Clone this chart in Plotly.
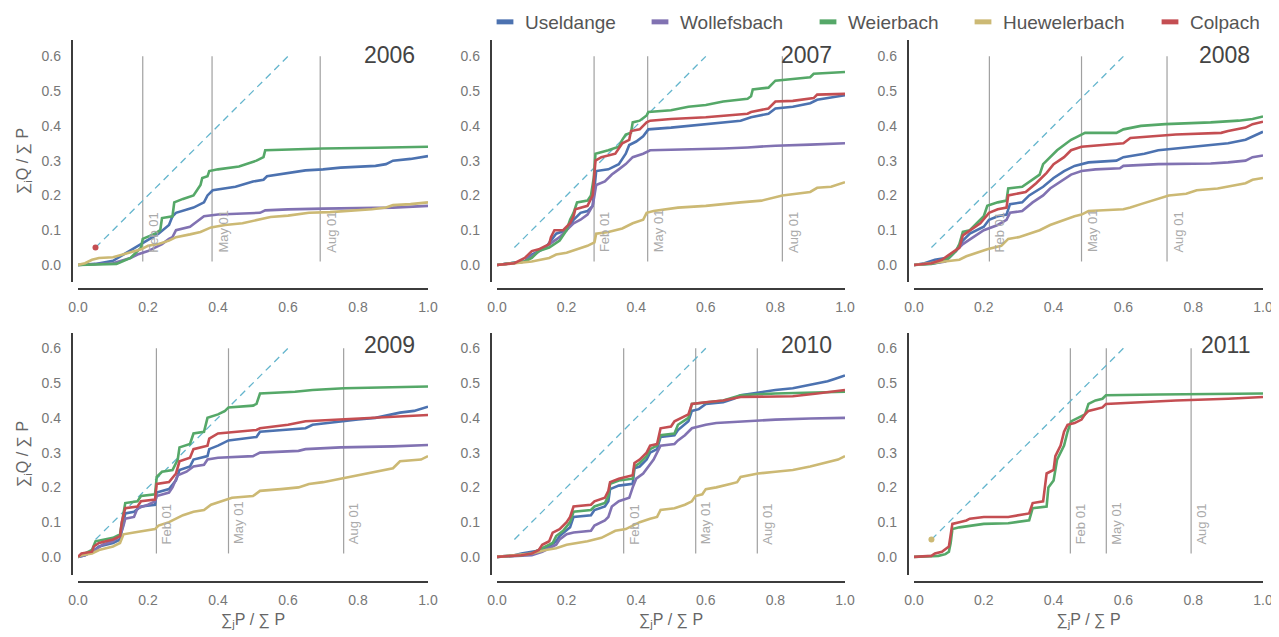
import plotly.graph_objects as go

# ---------------- data ----------------
YEARS = [2006, 2007, 2008, 2009, 2010, 2011]
STATIONS = ["Useldange", "Wollefsbach", "Weierbach", "Huewelerbach", "Colpach"]
COLORS = ["#4C72B0", "#8172B2", "#55A868", "#CCB974", "#C44E52"]
DIAG_COLOR = "#64B5CD"

# date markers (fraction of cumulative precipitation)
FEB = [0.185, 0.279, 0.216, 0.224, 0.364, 0.448]
MAY = [0.383, 0.433, 0.480, 0.430, 0.571, 0.551]
AUG = [0.692, 0.820, 0.725, 0.759, 0.748, 0.794]
DATE_LABELS = ["Feb 01", "May 01", "Aug 01"]

# 1:1 reference line and start marker
DIAG_X = [0.05, 0.6]
DIAG_Y = [0.05, 0.6]
DOT_X = [0.05]
DOT_Y = [0.05]
DOT_STATION = {2006: "Colpach", 2011: "Huewelerbach"}

# cumulative curves: (sum_j P / sum P, sum_i Q / sum P)
USE_2006 = [(0, 0), (0.05, 0.003), (0.10, 0.012), (0.13, 0.03), (0.16, 0.05), (0.18, 0.06), (0.21, 0.08), (0.23, 0.09),
            (0.26, 0.115), (0.27, 0.14), (0.28, 0.15), (0.33, 0.165), (0.36, 0.18), (0.37, 0.20), (0.385, 0.215),
            (0.45, 0.225), (0.50, 0.24), (0.53, 0.245), (0.54, 0.255), (0.60, 0.265), (0.65, 0.272), (0.70, 0.275),
            (0.75, 0.28), (0.85, 0.285), (0.88, 0.29), (0.90, 0.30), (0.95, 0.305), (1.0, 0.313)]
WOL_2006 = [(0, 0), (0.10, 0.005), (0.15, 0.02), (0.17, 0.03), (0.20, 0.04), (0.22, 0.05), (0.24, 0.06), (0.26, 0.075),
            (0.27, 0.08), (0.28, 0.10), (0.32, 0.11), (0.34, 0.125), (0.36, 0.14), (0.40, 0.145), (0.48, 0.147),
            (0.52, 0.15), (0.535, 0.157), (0.60, 0.16), (0.70, 0.162), (0.80, 0.163), (0.90, 0.165), (1.0, 0.17)]
WEI_2006 = [(0, 0), (0.11, 0.003), (0.15, 0.02), (0.18, 0.05), (0.185, 0.075), (0.22, 0.09), (0.235, 0.10),
            (0.24, 0.135), (0.27, 0.14), (0.275, 0.18), (0.30, 0.19), (0.33, 0.20), (0.35, 0.23), (0.355, 0.25),
            (0.37, 0.255), (0.375, 0.27), (0.40, 0.275), (0.46, 0.283), (0.51, 0.30), (0.53, 0.31), (0.535, 0.33),
            (0.60, 0.332), (0.70, 0.335), (0.85, 0.337), (1.0, 0.34)]
HUE_2006 = [(0, 0), (0.02, 0.005), (0.04, 0.015), (0.06, 0.02), (0.10, 0.022), (0.13, 0.03), (0.16, 0.04),
            (0.18, 0.045), (0.20, 0.055), (0.23, 0.06), (0.26, 0.07), (0.28, 0.08), (0.32, 0.088), (0.35, 0.095),
            (0.38, 0.108), (0.42, 0.115), (0.47, 0.12), (0.52, 0.13), (0.55, 0.138), (0.60, 0.142), (0.63, 0.145),
            (0.66, 0.15), (0.72, 0.152), (0.78, 0.155), (0.84, 0.16), (0.88, 0.165), (0.90, 0.172), (0.95, 0.175),
            (1.0, 0.18)]

USE_2007 = [(0, 0), (0.05, 0.005), (0.08, 0.01), (0.10, 0.03), (0.14, 0.05), (0.17, 0.09), (0.20, 0.10), (0.22, 0.13),
            (0.24, 0.15), (0.26, 0.155), (0.275, 0.17), (0.285, 0.27), (0.32, 0.275), (0.35, 0.29), (0.37, 0.32),
            (0.38, 0.345), (0.40, 0.355), (0.42, 0.37), (0.435, 0.39), (0.50, 0.395), (0.60, 0.405), (0.70, 0.415),
            (0.73, 0.425), (0.78, 0.435), (0.80, 0.45), (0.85, 0.455), (0.90, 0.465), (0.92, 0.475), (1.0, 0.488)]
WOL_2007 = [(0, 0), (0.05, 0.005), (0.08, 0.01), (0.10, 0.025), (0.13, 0.045), (0.15, 0.06), (0.18, 0.08),
            (0.20, 0.10), (0.22, 0.12), (0.24, 0.13), (0.26, 0.145), (0.275, 0.17), (0.285, 0.23), (0.31, 0.24),
            (0.33, 0.26), (0.35, 0.275), (0.37, 0.29), (0.39, 0.31), (0.42, 0.32), (0.44, 0.33), (0.55, 0.332),
            (0.65, 0.335), (0.72, 0.338), (0.80, 0.343), (0.90, 0.346), (1.0, 0.35)]
WEI_2007 = [(0, 0), (0.05, 0.005), (0.08, 0.01), (0.10, 0.02), (0.12, 0.04), (0.15, 0.05), (0.18, 0.07),
            (0.20, 0.10), (0.21, 0.13), (0.22, 0.15), (0.23, 0.18), (0.26, 0.185), (0.27, 0.20), (0.278, 0.25),
            (0.283, 0.32), (0.32, 0.33), (0.35, 0.34), (0.36, 0.36), (0.37, 0.375), (0.385, 0.38), (0.39, 0.41),
            (0.41, 0.415), (0.43, 0.43), (0.435, 0.44), (0.50, 0.445), (0.55, 0.455), (0.60, 0.46), (0.65, 0.47),
            (0.72, 0.478), (0.73, 0.485), (0.735, 0.505), (0.78, 0.51), (0.80, 0.53), (0.85, 0.535), (0.90, 0.54),
            (0.91, 0.55), (0.95, 0.553), (1.0, 0.555)]
HUE_2007 = [(0, 0), (0.05, 0.005), (0.10, 0.01), (0.15, 0.02), (0.17, 0.03), (0.20, 0.035), (0.23, 0.045),
            (0.26, 0.055), (0.28, 0.065), (0.285, 0.09), (0.32, 0.095), (0.36, 0.105), (0.39, 0.12), (0.42, 0.13),
            (0.43, 0.15), (0.45, 0.155), (0.52, 0.165), (0.60, 0.17), (0.70, 0.18), (0.76, 0.185), (0.82, 0.20),
            (0.86, 0.205), (0.90, 0.21), (0.92, 0.222), (0.96, 0.225), (1.0, 0.238)]
COL_2007 = [(0, 0), (0.05, 0.005), (0.08, 0.02), (0.10, 0.04), (0.12, 0.045), (0.15, 0.06), (0.155, 0.08),
            (0.165, 0.10), (0.19, 0.10), (0.21, 0.12), (0.22, 0.14), (0.225, 0.16), (0.26, 0.17), (0.275, 0.20),
            (0.283, 0.30), (0.30, 0.31), (0.34, 0.32), (0.36, 0.35), (0.38, 0.36), (0.385, 0.385), (0.41, 0.39),
            (0.43, 0.41), (0.44, 0.415), (0.50, 0.42), (0.60, 0.425), (0.65, 0.43), (0.72, 0.435), (0.73, 0.44),
            (0.78, 0.45), (0.80, 0.47), (0.85, 0.472), (0.91, 0.48), (0.92, 0.49), (1.0, 0.492)]

USE_2008 = [(0, 0), (0.03, 0.005), (0.06, 0.015), (0.09, 0.02), (0.12, 0.04), (0.14, 0.07), (0.16, 0.09),
            (0.20, 0.11), (0.215, 0.13), (0.24, 0.14), (0.265, 0.145), (0.275, 0.175), (0.31, 0.18), (0.33, 0.20),
            (0.37, 0.225), (0.40, 0.25), (0.43, 0.27), (0.46, 0.285), (0.50, 0.295), (0.58, 0.30), (0.60, 0.31),
            (0.66, 0.32), (0.70, 0.33), (0.75, 0.335), (0.85, 0.345), (0.90, 0.35), (0.95, 0.36), (0.97, 0.37),
            (1.0, 0.383)]
WOL_2008 = [(0, 0), (0.06, 0.005), (0.09, 0.01), (0.10, 0.02), (0.12, 0.04), (0.14, 0.06), (0.17, 0.08),
            (0.20, 0.10), (0.24, 0.115), (0.265, 0.13), (0.275, 0.15), (0.31, 0.155), (0.34, 0.18), (0.37, 0.20),
            (0.39, 0.22), (0.42, 0.24), (0.45, 0.26), (0.48, 0.27), (0.52, 0.275), (0.59, 0.278), (0.60, 0.285),
            (0.70, 0.29), (0.85, 0.292), (0.90, 0.295), (0.95, 0.30), (0.97, 0.31), (1.0, 0.315)]
WEI_2008 = [(0, 0), (0.05, 0.003), (0.08, 0.01), (0.10, 0.02), (0.12, 0.04), (0.13, 0.06), (0.14, 0.095),
            (0.16, 0.10), (0.18, 0.12), (0.20, 0.14), (0.21, 0.17), (0.24, 0.18), (0.265, 0.185), (0.27, 0.22),
            (0.31, 0.225), (0.33, 0.24), (0.36, 0.26), (0.37, 0.29), (0.39, 0.31), (0.41, 0.33), (0.43, 0.345),
            (0.45, 0.36), (0.47, 0.37), (0.49, 0.38), (0.58, 0.38), (0.60, 0.39), (0.65, 0.40), (0.72, 0.405),
            (0.85, 0.41), (0.93, 0.415), (0.97, 0.42), (1.0, 0.427)]
HUE_2008 = [(0, 0), (0.05, 0.005), (0.10, 0.01), (0.13, 0.015), (0.15, 0.025), (0.18, 0.035), (0.21, 0.045),
            (0.25, 0.055), (0.27, 0.075), (0.30, 0.08), (0.33, 0.09), (0.36, 0.10), (0.39, 0.115), (0.43, 0.13),
            (0.46, 0.14), (0.48, 0.145), (0.50, 0.155), (0.60, 0.16), (0.62, 0.165), (0.65, 0.175), (0.70, 0.19),
            (0.73, 0.20), (0.78, 0.205), (0.81, 0.215), (0.87, 0.22), (0.90, 0.225), (0.95, 0.235), (0.97, 0.245),
            (1.0, 0.25)]
COL_2008 = [(0, 0), (0.05, 0.005), (0.08, 0.015), (0.10, 0.03), (0.13, 0.05), (0.14, 0.085), (0.16, 0.10),
            (0.19, 0.12), (0.215, 0.15), (0.24, 0.16), (0.265, 0.165), (0.27, 0.20), (0.32, 0.21), (0.35, 0.235),
            (0.38, 0.265), (0.40, 0.29), (0.43, 0.31), (0.45, 0.33), (0.48, 0.34), (0.53, 0.345), (0.60, 0.35),
            (0.62, 0.365), (0.70, 0.37), (0.75, 0.375), (0.88, 0.38), (0.90, 0.385), (0.95, 0.395), (0.97, 0.405),
            (1.0, 0.412)]

USE_2009 = [(0, 0), (0.02, 0.005), (0.04, 0.015), (0.06, 0.03), (0.10, 0.04), (0.12, 0.05), (0.13, 0.10),
            (0.135, 0.125), (0.16, 0.13), (0.18, 0.145), (0.22, 0.15), (0.225, 0.185), (0.26, 0.195), (0.28, 0.22),
            (0.29, 0.25), (0.32, 0.26), (0.33, 0.28), (0.37, 0.29), (0.375, 0.31), (0.40, 0.32), (0.43, 0.335),
            (0.47, 0.34), (0.51, 0.345), (0.52, 0.36), (0.60, 0.365), (0.65, 0.37), (0.67, 0.38), (0.75, 0.39),
            (0.80, 0.395), (0.85, 0.40), (0.90, 0.41), (0.92, 0.415), (0.96, 0.42), (1.0, 0.432)]
WOL_2009 = [(0, 0), (0.02, 0.005), (0.05, 0.02), (0.07, 0.035), (0.10, 0.045), (0.12, 0.06), (0.13, 0.09),
            (0.135, 0.11), (0.16, 0.115), (0.17, 0.14), (0.20, 0.15), (0.22, 0.16), (0.225, 0.175), (0.26, 0.185),
            (0.27, 0.20), (0.285, 0.235), (0.31, 0.245), (0.33, 0.26), (0.36, 0.265), (0.37, 0.28), (0.40, 0.285),
            (0.50, 0.29), (0.52, 0.30), (0.63, 0.305), (0.65, 0.31), (0.75, 0.315), (0.90, 0.318), (1.0, 0.322)]
WEI_2009 = [(0, 0), (0.02, 0.01), (0.04, 0.02), (0.05, 0.045), (0.08, 0.05), (0.10, 0.055), (0.12, 0.065),
            (0.13, 0.12), (0.135, 0.155), (0.17, 0.16), (0.18, 0.175), (0.22, 0.18), (0.225, 0.23), (0.24, 0.245),
            (0.27, 0.25), (0.285, 0.28), (0.29, 0.315), (0.32, 0.325), (0.33, 0.355), (0.36, 0.36), (0.37, 0.40),
            (0.40, 0.41), (0.42, 0.42), (0.43, 0.43), (0.50, 0.435), (0.51, 0.44), (0.52, 0.47), (0.62, 0.475),
            (0.67, 0.48), (0.76, 0.485), (0.90, 0.487), (1.0, 0.49)]
HUE_2009 = [(0, 0), (0.01, 0.005), (0.04, 0.01), (0.06, 0.02), (0.08, 0.025), (0.10, 0.03), (0.12, 0.04),
            (0.13, 0.065), (0.16, 0.07), (0.19, 0.075), (0.22, 0.08), (0.23, 0.09), (0.26, 0.10), (0.28, 0.11),
            (0.30, 0.12), (0.33, 0.13), (0.36, 0.135), (0.38, 0.15), (0.41, 0.16), (0.44, 0.17), (0.50, 0.175),
            (0.52, 0.19), (0.58, 0.195), (0.63, 0.20), (0.66, 0.21), (0.70, 0.215), (0.75, 0.225), (0.80, 0.235),
            (0.85, 0.245), (0.90, 0.255), (0.92, 0.275), (0.98, 0.28), (1.0, 0.29)]
COL_2009 = [(0, 0), (0.01, 0.01), (0.04, 0.015), (0.045, 0.03), (0.06, 0.04), (0.10, 0.05), (0.12, 0.06),
            (0.125, 0.10), (0.135, 0.14), (0.17, 0.145), (0.18, 0.16), (0.22, 0.165), (0.225, 0.21), (0.26, 0.215),
            (0.28, 0.24), (0.29, 0.275), (0.32, 0.285), (0.33, 0.31), (0.37, 0.32), (0.375, 0.34), (0.40, 0.355),
            (0.45, 0.36), (0.51, 0.365), (0.52, 0.37), (0.60, 0.38), (0.65, 0.39), (0.75, 0.395), (0.85, 0.40),
            (0.95, 0.405), (1.0, 0.408)]

USE_2010 = [(0, 0), (0.05, 0.005), (0.07, 0.01), (0.10, 0.015), (0.13, 0.02), (0.15, 0.03), (0.17, 0.045),
            (0.18, 0.06), (0.20, 0.075), (0.21, 0.085), (0.22, 0.115), (0.27, 0.12), (0.28, 0.135), (0.31, 0.145),
            (0.32, 0.16), (0.325, 0.195), (0.35, 0.205), (0.39, 0.21), (0.395, 0.255), (0.41, 0.26), (0.43, 0.28),
            (0.44, 0.30), (0.46, 0.31), (0.47, 0.345), (0.51, 0.35), (0.52, 0.365), (0.55, 0.39), (0.56, 0.42),
            (0.58, 0.425), (0.60, 0.44), (0.65, 0.445), (0.68, 0.455), (0.70, 0.465), (0.76, 0.475), (0.80, 0.48),
            (0.85, 0.485), (0.90, 0.495), (0.95, 0.505), (0.97, 0.512), (1.0, 0.522)]
WOL_2010 = [(0, 0), (0.10, 0.005), (0.13, 0.015), (0.15, 0.025), (0.17, 0.035), (0.18, 0.05), (0.20, 0.065),
            (0.22, 0.07), (0.27, 0.075), (0.28, 0.09), (0.31, 0.105), (0.32, 0.115), (0.33, 0.145), (0.35, 0.16),
            (0.38, 0.17), (0.39, 0.20), (0.40, 0.225), (0.42, 0.24), (0.44, 0.265), (0.45, 0.28), (0.47, 0.32),
            (0.51, 0.325), (0.52, 0.335), (0.54, 0.35), (0.56, 0.37), (0.58, 0.375), (0.60, 0.38), (0.63, 0.385),
            (0.70, 0.39), (0.80, 0.395), (0.90, 0.398), (1.0, 0.40)]
WEI_2010 = [(0, 0), (0.07, 0.005), (0.10, 0.01), (0.12, 0.02), (0.14, 0.03), (0.16, 0.04), (0.17, 0.06),
            (0.19, 0.075), (0.21, 0.10), (0.22, 0.13), (0.27, 0.135), (0.28, 0.145), (0.31, 0.155), (0.32, 0.175),
            (0.325, 0.21), (0.35, 0.22), (0.39, 0.225), (0.395, 0.26), (0.41, 0.27), (0.43, 0.29), (0.44, 0.31),
            (0.46, 0.32), (0.47, 0.35), (0.51, 0.355), (0.52, 0.38), (0.55, 0.40), (0.56, 0.44), (0.60, 0.445),
            (0.65, 0.45), (0.70, 0.465), (0.80, 0.47), (1.0, 0.475)]
HUE_2010 = [(0, 0), (0.05, 0.005), (0.10, 0.01), (0.14, 0.02), (0.17, 0.025), (0.20, 0.035), (0.23, 0.04),
            (0.26, 0.045), (0.30, 0.055), (0.32, 0.065), (0.34, 0.075), (0.37, 0.08), (0.39, 0.09), (0.41, 0.10),
            (0.44, 0.11), (0.46, 0.115), (0.47, 0.135), (0.51, 0.14), (0.54, 0.15), (0.56, 0.16), (0.57, 0.175),
            (0.59, 0.18), (0.60, 0.195), (0.63, 0.20), (0.67, 0.21), (0.69, 0.215), (0.70, 0.23), (0.75, 0.24),
            (0.80, 0.245), (0.85, 0.25), (0.90, 0.26), (0.94, 0.27), (0.98, 0.28), (1.0, 0.29)]
COL_2010 = [(0, 0), (0.07, 0.005), (0.10, 0.01), (0.12, 0.02), (0.13, 0.035), (0.15, 0.045), (0.16, 0.07),
            (0.18, 0.08), (0.20, 0.10), (0.21, 0.115), (0.22, 0.145), (0.27, 0.15), (0.28, 0.16), (0.31, 0.17),
            (0.32, 0.19), (0.325, 0.215), (0.35, 0.225), (0.37, 0.23), (0.39, 0.235), (0.395, 0.27), (0.41, 0.28),
            (0.43, 0.30), (0.44, 0.32), (0.46, 0.325), (0.47, 0.37), (0.50, 0.375), (0.51, 0.39), (0.55, 0.41),
            (0.56, 0.44), (0.60, 0.445), (0.65, 0.45), (0.70, 0.46), (0.85, 0.462), (0.92, 0.47), (1.0, 0.48)]

WEI_2011 = [(0, 0), (0.07, 0.003), (0.09, 0.008), (0.10, 0.015), (0.105, 0.04), (0.11, 0.08), (0.13, 0.085),
            (0.16, 0.09), (0.20, 0.095), (0.27, 0.097), (0.30, 0.10), (0.33, 0.105), (0.34, 0.14), (0.38, 0.145),
            (0.385, 0.20), (0.40, 0.22), (0.41, 0.28), (0.42, 0.30), (0.43, 0.32), (0.44, 0.36), (0.45, 0.39),
            (0.47, 0.40), (0.49, 0.41), (0.50, 0.44), (0.52, 0.45), (0.54, 0.455), (0.55, 0.465), (0.70, 0.467),
            (1.0, 0.47)]
COL_2011 = [(0, 0), (0.05, 0.003), (0.06, 0.01), (0.08, 0.015), (0.10, 0.03), (0.105, 0.06), (0.11, 0.095),
            (0.13, 0.10), (0.15, 0.105), (0.16, 0.11), (0.20, 0.115), (0.27, 0.115), (0.30, 0.12), (0.33, 0.125),
            (0.34, 0.155), (0.37, 0.16), (0.375, 0.20), (0.38, 0.24), (0.40, 0.25), (0.405, 0.29), (0.41, 0.30),
            (0.42, 0.32), (0.43, 0.36), (0.44, 0.38), (0.46, 0.385), (0.48, 0.395), (0.49, 0.41), (0.50, 0.42),
            (0.52, 0.425), (0.54, 0.43), (0.55, 0.44), (0.65, 0.445), (0.75, 0.45), (0.90, 0.455), (1.0, 0.46)]

CURVES = {
    2006: {"Useldange": USE_2006, "Wollefsbach": WOL_2006, "Weierbach": WEI_2006, "Huewelerbach": HUE_2006},
    2007: {"Useldange": USE_2007, "Wollefsbach": WOL_2007, "Weierbach": WEI_2007, "Huewelerbach": HUE_2007,
           "Colpach": COL_2007},
    2008: {"Useldange": USE_2008, "Wollefsbach": WOL_2008, "Weierbach": WEI_2008, "Huewelerbach": HUE_2008,
           "Colpach": COL_2008},
    2009: {"Useldange": USE_2009, "Wollefsbach": WOL_2009, "Weierbach": WEI_2009, "Huewelerbach": HUE_2009,
           "Colpach": COL_2009},
    2010: {"Useldange": USE_2010, "Wollefsbach": WOL_2010, "Weierbach": WEI_2010, "Huewelerbach": HUE_2010,
           "Colpach": COL_2010},
    2011: {"Weierbach": WEI_2011, "Colpach": COL_2011},
}

X_TICKS = [0.0, 0.2, 0.4, 0.6, 0.8, 1.0]
Y_TICKS = [0.0, 0.1, 0.2, 0.3, 0.4, 0.5, 0.6]
X_TITLE = "∑<sub>j</sub>P / ∑ P"
Y_TITLE = "∑<sub>i</sub>Q / ∑ P"

# ---------------- layout geometry (window pixels) ----------------
WIN_W, WIN_H = 1279, 637
OFF = 8  # page body margin
W, H = WIN_W - OFF, WIN_H - OFF
COL_PX = [(78, 428), (497, 845), (914, 1263)]
ROW_PX = [(40, 282), (333, 575)]
Y_RANGES = [[-0.049, 0.647], [-0.052, 0.644]]
LEGEND_PX = [485, 640, 808, 963, 1150]
FONT = "Liberation Sans, Arial, sans-serif"
COLOR_OF = dict(zip(STATIONS, COLORS))


def px_x(p):
    return (p - OFF) / W


def px_y(p):
    return 1 - (p - OFF) / H


fig = go.Figure()
layout = dict(
    width=W, height=H, autosize=False,
    margin=dict(l=0, r=0, t=0, b=0, pad=0, autoexpand=False),
    paper_bgcolor="white", plot_bgcolor="white",
    font=dict(family=FONT, color="#555"),
    showlegend=True,
)
shapes = []
annotations = []

for i, year in enumerate(YEARS):
    r, c = divmod(i, 3)
    n = i + 1
    xa = "x" if n == 1 else f"x{n}"
    ya = "y" if n == 1 else f"y{n}"
    xkey = "xaxis" if n == 1 else f"xaxis{n}"
    ykey = "yaxis" if n == 1 else f"yaxis{n}"
    x0, x1 = COL_PX[c]
    ytop, ybot = ROW_PX[r]
    xax = dict(
        domain=[px_x(x0), px_x(x1)], anchor=ya, range=[0, 1], automargin=False,
        showgrid=False, zeroline=False, showline=False, ticks="",
        tickvals=X_TICKS, tickformat=".1f", ticklabelstandoff=15,
        tickfont=dict(size=14, color="#777"),
    )
    if r == 1:
        xax["title"] = dict(text=X_TITLE, font=dict(size=16, color="#666"), standoff=6)
    yax = dict(
        domain=[px_y(ybot), px_y(ytop)], anchor=xa, range=Y_RANGES[r], automargin=False,
        showgrid=False, zeroline=False, showline=False, ticks="",
        tickvals=Y_TICKS, tickformat=".1f", ticklabelstandoff=16,
        tickfont=dict(size=14, color="#777"),
    )
    if c == 0:
        yax["title"] = dict(text=Y_TITLE, font=dict(size=16, color="#666"), standoff=8)
    layout[xkey] = xax
    layout[ykey] = yax

    # offset spines
    shapes.append(dict(type="line", xref="paper", yref="paper",
                       x0=px_x(x0 - 6), x1=px_x(x0 - 6), y0=px_y(ytop), y1=px_y(ybot),
                       line=dict(color="#3c3c3c", width=2)))
    shapes.append(dict(type="line", xref="paper", yref="paper",
                       x0=px_x(x0), x1=px_x(x1), y0=px_y(ybot + 7), y1=px_y(ybot + 7),
                       line=dict(color="#3c3c3c", width=2)))

    # date lines
    for xv, lab in zip([FEB[i], MAY[i], AUG[i]], DATE_LABELS):
        shapes.append(dict(type="line", xref=xa, yref=ya, x0=xv, x1=xv, y0=0.01, y1=0.6,
                           line=dict(color="#a0a0a0", width=1.2), layer="below"))
        annotations.append(dict(x=xv, y=0.03, xref=xa, yref=ya, text=lab, showarrow=False,
                                textangle=-90, xanchor="left", yanchor="bottom", xshift=1,
                                font=dict(size=13, color="#aaaaaa")))

    # year title
    annotations.append(dict(x=0.969, y=0.94 if r == 0 else 0.95, xref=f"{xa} domain", yref=f"{ya} domain",
                            text=str(year), showarrow=False, xanchor="right", yanchor="middle",
                            font=dict(size=23, color="#444")))

    # diagonal
    fig.add_trace(go.Scatter(x=DIAG_X, y=DIAG_Y, mode="lines", xaxis=xa, yaxis=ya,
                             line=dict(color=DIAG_COLOR, width=1.3, dash="7px,5px"),
                             showlegend=False, hoverinfo="skip"))

    for st in STATIONS:
        if st not in CURVES[year]:
            continue
        pts = CURVES[year][st]
        fig.add_trace(go.Scatter(x=[p[0] for p in pts], y=[p[1] for p in pts], mode="lines",
                                 xaxis=xa, yaxis=ya, name=st, showlegend=False,
                                 line=dict(color=COLOR_OF[st], width=2.6)))

    if year in DOT_STATION:
        fig.add_trace(go.Scatter(x=DOT_X, y=DOT_Y, mode="markers", xaxis=xa, yaxis=ya,
                                 marker=dict(color=COLOR_OF[DOT_STATION[year]], size=6),
                                 showlegend=False, hoverinfo="skip"))

# legend: one legend per station, placed across the top
for k, st in enumerate(STATIONS):
    lname = "legend" if k == 0 else f"legend{k + 1}"
    fig.add_trace(go.Scatter(x=[None], y=[None], mode="markers", name=st, legend=lname,
                             xaxis="x", yaxis="y",
                             marker=dict(symbol="line-ew", size=12,
                                         line=dict(color=COLOR_OF[st], width=5))))
    layout[lname] = dict(x=px_x(LEGEND_PX[k]), y=px_y(22), xanchor="left", yanchor="middle",
                         orientation="h", bgcolor="rgba(0,0,0,0)",
                         font=dict(size=19, color="#555", family=FONT))

layout["shapes"] = shapes
layout["annotations"] = annotations
fig.update_layout(**layout)
fig.write_html("out.html")
